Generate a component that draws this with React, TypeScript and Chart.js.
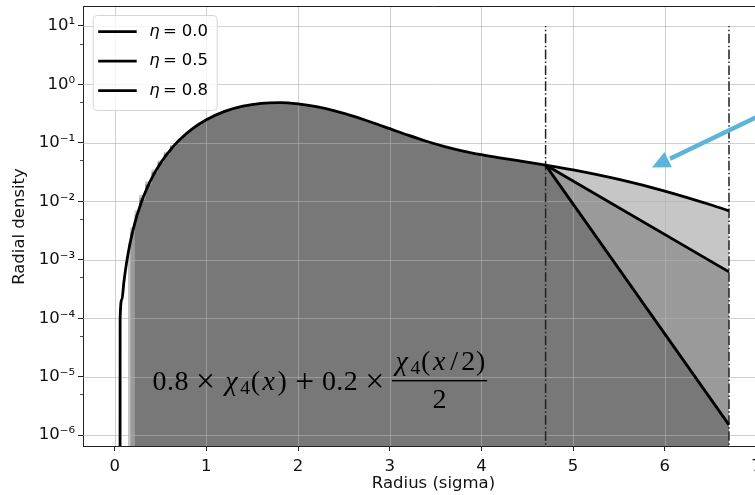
import React, { useEffect, useRef } from 'react';
import { Chart, registerables } from 'chart.js';
Chart.register(...registerables);

// Shared part of the density curve (all three η coincide up to x = 4.7)
const curveX = [0.058, 0.06, 0.08, 0.1, 0.13, 0.17, 0.22, 0.28, 0.35, 0.43, 0.52, 0.62, 0.67, 0.72, 0.85, 1.0, 1.2, 1.4, 1.6, 1.8, 2.0, 2.2, 2.4, 2.6, 2.8, 3.0, 3.2, 3.4, 3.6, 3.8, 4.0, 4.2, 4.4, 4.6, 4.7];
const curveY = [1e-9, 1.0e-4, 2.1e-4, 4.04e-4, 8.85e-4, 1.97e-3, 4.22e-3, 8.58e-3, 1.64e-2, 2.95e-2, 5.0e-2, 8.0e-2, 0.0979, 0.1174, 0.1747, 0.248, 0.3455, 0.4254, 0.4741, 0.4864, 0.4633, 0.4151, 0.352, 0.2866, 0.2257, 0.1748, 0.1353, 0.1065, 0.0863, 0.0724, 0.0627, 0.0554, 0.0495, 0.0442, 0.0417];

// Tails after the cut at x = 4.7
const tailTopX = [5.0, 5.5, 6.0, 6.5, 6.7];
const tailTopY = [0.0345, 0.0237, 0.0150, 0.00873, 0.00688];
const tailMidX = [4.7, 6.7];
const tailMidY = [0.0417, 6.2e-4];
const tailLowX = [4.7, 6.7];
const tailLowY = [0.0417, 1.5e-6];

// Histogram bins at the low-radius edge (three overlaid histograms)
const histEdges = [0.145, 0.17, 0.218, 0.268, 0.335, 0.402, 0.469, 0.536, 0.603, 0.67];
const histA = [1.9e-3, 3.6e-3, 7.0e-3, 1.3e-2, 2.2e-2, 3.5e-2, 5.0e-2, 7.0e-2, 9.2e-2];
const histB = [0, 3.0e-3, 6.0e-3, 1.15e-2, 2.0e-2, 3.2e-2, 4.7e-2, 6.6e-2, 8.8e-2];
const histC = [0, 0, 5.6e-3, 1.05e-2, 1.9e-2, 3.1e-2, 4.6e-2, 6.4e-2, 8.6e-2];

const etaLabels = ['η = 0.0', 'η = 0.5', 'η = 0.8'];
const cutX = [4.7, 6.7];
const cutTop = 10;

const xTicks = [0, 1, 2, 3, 4, 5, 6, 7];
const yTicks = [1e-6, 1e-5, 1e-4, 1e-3, 1e-2, 1e-1, 1, 10];
const yTickLabels = ['10⁻⁶', '10⁻⁵', '10⁻⁴', '10⁻³', '10⁻²', '10⁻¹', '10⁰', '10¹'];
const yMinorTicks = [5e-6, 5e-5, 5e-4, 5e-3, 5e-2, 5e-1, 5];

// annotation anchors (data units)
const arrowTail = { x: 7.4, y: 0.55 };
const arrowTip = { x: 5.86, y: 0.038 };
const formulaAnchor = { x: 0.414, y: 5.9e-6 };

const FONT = 'DejaVu Sans';
const FILL = 'rgba(0,0,0,0.224)';

function pts(xs: number[], ys: number[]) {
  return xs.map((x, i) => ({ x, y: ys[i] }));
}
function stepPts(vals: number[]) {
  const out: any[] = [];
  vals.forEach((v, i) => {
    if (v > 0) {
      out.push({ x: histEdges[i], y: v });
      out.push({ x: histEdges[i + 1], y: v });
    }
  });
  return out;
}

function drawFormula(ctx: CanvasRenderingContext2D, x0: number, base: number) {
  const S = 28;
  const fonts: any = {
    r: `${S}px "Liberation Serif"`,
    i: `italic ${S}px "Liberation Serif"`,
    s: `${S * 0.7}px "Liberation Serif"`,
    o: `${S * 1.2}px "Liberation Serif"`,
  };
  const dys: any = { r: 0, i: 0, s: 0.15 * S, o: 0.07 * S };
  const main = [
    ['0', 'r', 0.5], ['.', 'r', 0.278], ['8', 'r', 0.5], ['×', 'o', 1.222],
    ['χ', 'i', 0.626], ['4', 's', 0.35], ['(', 'r', 0.389], ['x', 'i', 0.572], [')', 'r', 0.389],
    ['+', 'o', 1.222], ['0', 'r', 0.5], ['.', 'r', 0.278], ['2', 'r', 0.5], ['×', 'o', 1.222],
  ];
  const numer = [
    ['χ', 'i', 0.626], ['4', 's', 0.35], ['(', 'r', 0.389], ['x', 'i', 0.572], ['/', 'r', 0.5], ['2', 'r', 0.5], [')', 'r', 0.389],
  ];
  ctx.save();
  ctx.fillStyle = '#000';
  ctx.textAlign = 'center';
  ctx.textBaseline = 'alphabetic';
  const run = (seq: any[], x: number, y: number) => {
    let cur = x;
    for (const [t, f, a] of seq) {
      ctx.font = fonts[f];
      ctx.fillText(t, cur + (a * S) / 2, y + dys[f]);
      cur += a * S;
    }
    return cur;
  };
  const fx = run(main, x0, base);
  const nw = numer.reduce((s, g: any) => s + g[2] * S, 0);
  const barL = fx;
  const barW = nw + 2;
  run(numer, barL + 1, base - 0.71 * S);
  ctx.fillRect(barL, base - 0.335 * S - 0.7, barW, 1.4);
  ctx.font = fonts.r;
  ctx.fillText('2', barL + barW / 2, base + 0.64 * S);
  ctx.restore();
}

export default function App() {
  const ref = useRef<HTMLCanvasElement>(null);
  useEffect(() => {
    const canvas = ref.current!;
    const shared = pts(curveX, curveY).filter((p) => p.x >= histEdges[histEdges.length - 1]);
    const fillA = [...stepPts(histA), ...shared, ...pts(tailTopX, tailTopY)];
    const fillB = [...stepPts(histB), ...shared, ...pts(tailMidX.slice(1), tailMidY.slice(1))];
    const fillC = [...stepPts(histC), ...shared, ...pts(tailLowX.slice(1), tailLowY.slice(1))];

    const lineDs = (label: string, data: any[]) => ({
      label, data, borderColor: '#000', borderWidth: 2.8, pointRadius: 0, fill: false,
      cubicInterpolationMode: 'monotone', order: 1,
    });
    const fillDs = (data: any[], order: number) => ({
      label: '', data, borderColor: 'transparent', borderWidth: 0, pointRadius: 0,
      backgroundColor: FILL, fill: 'start', tension: 0, order,
    });
    const cutDs = (x: number) => ({
      label: '', data: [{ x, y: 1e-8 }, { x, y: cutTop }], borderColor: '#222', borderWidth: 1.5,
      borderDash: [9.6, 2.4, 1.5, 2.4], pointRadius: 0, fill: false, order: 2,
    });

    const custom = {
      id: 'custom',
      afterDatasetDraw(chart: any, args: any) {
        if (chart.data.datasets[args.index].order !== 10) return;
        const { ctx, chartArea: ca, scales } = chart;
        ctx.save();
        ctx.beginPath();
        ctx.rect(ca.left, ca.top, ca.right - ca.left, ca.bottom - ca.top);
        ctx.clip();
        ctx.strokeStyle = 'rgba(176,176,176,0.6)';
        ctx.lineWidth = 1;
        ctx.beginPath();
        for (const v of xTicks) {
          const p = Math.round(scales.x.getPixelForValue(v)) + 0.5;
          ctx.moveTo(p, ca.top);
          ctx.lineTo(p, ca.bottom);
        }
        for (const v of yTicks) {
          const p = Math.round(scales.y.getPixelForValue(v)) + 0.5;
          ctx.moveTo(ca.left, p);
          ctx.lineTo(ca.right, p);
        }
        ctx.stroke();
        ctx.restore();
      },
      afterDatasetsDraw(chart: any) {
        const { ctx, chartArea: ca, scales } = chart;
        const X = (v: number) => scales.x.getPixelForValue(v);
        const Y = (v: number) => scales.y.getPixelForValue(v);
        // formula
        drawFormula(ctx, X(formulaAnchor.x), Y(formulaAnchor.y));
        // arrow
        ctx.save();
        const tx = X(arrowTail.x), ty = Y(arrowTail.y), hx = X(arrowTip.x), hy = Y(arrowTip.y);
        const len = Math.hypot(tx - hx, ty - hy);
        const ux = (tx - hx) / len, uy = (ty - hy) / len;
        const bx = hx + ux * 18, by = hy + uy * 18;
        ctx.strokeStyle = 'rgb(92,181,216)';
        ctx.fillStyle = 'rgb(92,181,216)';
        ctx.lineWidth = 4.5;
        ctx.beginPath();
        ctx.moveTo(tx, ty);
        ctx.lineTo(bx + ux * 2, by + uy * 2);
        ctx.stroke();
        ctx.beginPath();
        ctx.moveTo(hx, hy);
        ctx.lineTo(bx - uy * 8.5, by + ux * 8.5);
        ctx.lineTo(bx + uy * 8.5, by - ux * 8.5);
        ctx.closePath();
        ctx.fill();
        ctx.restore();
        // top spine + minor ticks
        ctx.save();
        ctx.strokeStyle = '#222';
        ctx.lineWidth = 1;
        ctx.beginPath();
        ctx.moveTo(ca.left, Math.round(ca.top) - 0.5);
        ctx.lineTo(ca.right, Math.round(ca.top) - 0.5);
        ctx.moveTo(ca.right + 0.5, ca.top);
        ctx.lineTo(ca.right + 0.5, ca.bottom);
        ctx.stroke();
        ctx.lineWidth = 0.8;
        ctx.beginPath();
        for (const v of yMinorTicks) {
          const p = Math.round(Y(v)) + 0.5;
          ctx.moveTo(ca.left - 3, p);
          ctx.lineTo(ca.left, p);
        }
        ctx.stroke();
        ctx.restore();
        // legend
        ctx.save();
        const lx = ca.left + 9.7, ly = ca.top + 8, lw = 124, lh = 95;
        ctx.beginPath();
        (ctx as any).roundRect(lx + 0.5, ly + 0.5, lw, lh, 4);
        ctx.fillStyle = 'rgba(255,255,255,0.8)';
        ctx.fill();
        ctx.strokeStyle = '#d6d6d6';
        ctx.lineWidth = 1;
        ctx.stroke();
        const fs = 16.5;
        etaLabels.forEach((lab, i) => {
          const y = ly + 16.7 + i * 29.5;
          ctx.strokeStyle = '#000';
          ctx.lineWidth = 2.8;
          ctx.beginPath();
          ctx.moveTo(lx + 5.5, y);
          ctx.lineTo(lx + 44, y);
          ctx.stroke();
          ctx.fillStyle = '#000';
          ctx.textBaseline = 'middle';
          ctx.textAlign = 'left';
          let cx = lx + 56.5;
          ctx.font = `italic ${fs}px "${FONT}"`;
          ctx.fillText(lab.charAt(0), cx, y);
          cx += ctx.measureText(lab.charAt(0)).width + 0.2 * fs;
          ctx.font = `${fs}px "${FONT}"`;
          const rest = lab.slice(1).trim();
          const eq = rest.charAt(0);
          ctx.fillText(eq, cx, y);
          cx += ctx.measureText(eq).width + 0.3 * fs;
          ctx.fillText(rest.slice(1).trim(), cx, y);
        });
        ctx.restore();
      },
    };

    const chart = new Chart(canvas, {
      type: 'line',
      data: {
        datasets: [
          lineDs(etaLabels[0], [...pts(curveX, curveY), ...pts(tailTopX, tailTopY)]),
          lineDs(etaLabels[1], pts(tailMidX, tailMidY)),
          lineDs(etaLabels[2], pts(tailLowX, tailLowY)),
          cutDs(cutX[0]),
          cutDs(cutX[1]),
          fillDs(fillA, 10),
          fillDs(fillB, 11),
          fillDs(fillC, 12),
        ] as any,
      },
      options: {
        responsive: false,
        animation: false,
        devicePixelRatio: 1,
        events: [],
        layout: { padding: { left: 0, top: 7, right: 16, bottom: 0 } },
        plugins: { legend: { display: false }, tooltip: { enabled: false } },
        scales: {
          x: {
            type: 'linear',
            min: -0.345,
            max: 7.3,
            afterFit: (s: any) => { s.height = 49; s.paddingLeft = 0; s.paddingRight = 0; },
            afterBuildTicks: (s: any) => { s.ticks = xTicks.map((v) => ({ value: v })); },
            grid: { drawOnChartArea: false, tickLength: 5, tickColor: '#222', tickWidth: 1 },
            border: { color: '#222', width: 1 },
            ticks: {
              color: '#111', padding: 6, maxRotation: 0, autoSkip: false,
              font: { family: FONT, size: 16.5 },
              callback: (v: any) => String(v),
            },
            title: {
              display: true, text: 'Radius (sigma)', color: '#111',
              font: { family: FONT, size: 16.5 }, padding: { top: 0, bottom: 1 },
            },
          },
          y: {
            type: 'logarithmic',
            min: 6.52e-7,
            max: 21.1,
            afterFit: (s: any) => { s.width = 83; s.paddingTop = 0; s.paddingBottom = 0; },
            afterBuildTicks: (s: any) => { s.ticks = yTicks.map((v) => ({ value: v })); },
            grid: { drawOnChartArea: false, tickLength: 5, tickColor: '#222', tickWidth: 1 },
            border: { color: '#222', width: 1 },
            ticks: {
              color: '#111', padding: 3, autoSkip: false,
              font: { family: FONT, size: 16.5 },
              callback: (_v: any, i: number) => yTickLabels[i],
            },
            title: {
              display: true, text: 'Radial density', color: '#111',
              font: { family: FONT, size: 16.5 }, padding: { top: 10, bottom: 0 },
            },
          },
        },
      } as any,
      plugins: [custom as any],
    });
    return () => chart.destroy();
  }, []);
  return (
    <div style={{ position: 'fixed', left: 0, top: 0, width: 800, height: 495, background: '#fff' }}>
      <canvas ref={ref} width={800} height={495} style={{ display: 'block' }} />
    </div>
  );
}
